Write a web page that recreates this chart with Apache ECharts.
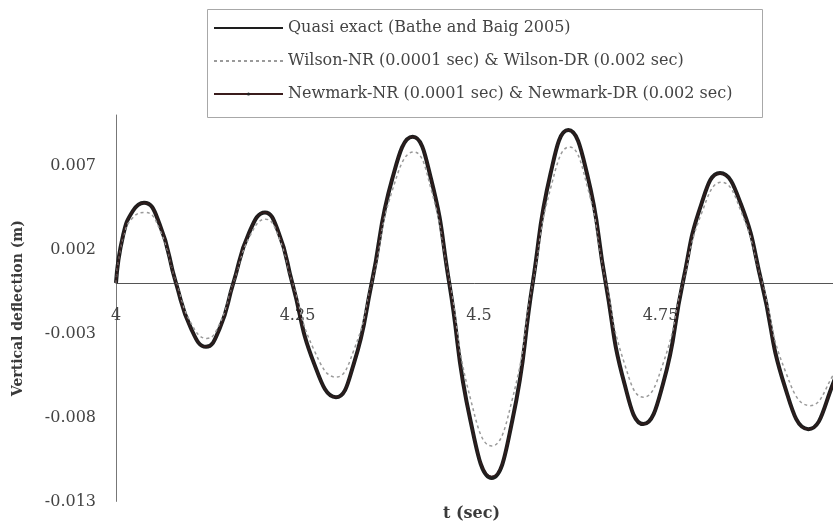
<!DOCTYPE html>
<html>
<head>
<meta charset="utf-8">
<script src="https://cdn.jsdelivr.net/npm/echarts@6/dist/echarts.min.js"></script>
<style>
html,body{margin:0;padding:0;background:#fff;}
#chart{width:833px;height:528px;}
</style>
</head>
<body>
<div id="chart"></div>
<script>
// ---- data ----
var seriesNames = [
  'Quasi exact (Bathe and Baig 2005)',
  'Wilson-NR (0.0001 sec) & Wilson-DR (0.002 sec)',
  'Newmark-NR (0.0001 sec) & Newmark-DR (0.002 sec)'
];
var xTicks = [4, 4.25, 4.5, 4.75, 5];
var yTicks = [-0.013, -0.008, -0.003, 0.002, 0.007];

var tQuasi = [4.000, 4.0096, 4.0234, 4.0386, 4.0601, 4.0826, 4.1033, 4.1240, 4.1428, 4.1616,
  4.1834, 4.2052, 4.2240, 4.2428, 4.2729, 4.3030, 4.3276, 4.3522, 4.3805, 4.4087,
  4.4339, 4.4590, 4.4883, 4.5175, 4.5458, 4.5740, 4.5985, 4.6230, 4.6488, 4.6745,
  4.7004, 4.7263, 4.7535, 4.7806, 4.8063, 4.8320, 4.8607, 4.8894, 4.9215, 4.9536,
  4.9876, 5.000];
var vQuasi = [0.0000, 0.0028, 0.0043, 0.00478, 0.0035, 0.0000, -0.0027, -0.0038, -0.0027, 0.0000,
  0.0030, 0.0042, 0.0030, 0.0000, -0.0048, -0.0068, -0.0048, 0.0000, 0.0062, 0.0087,
  0.0062, 0.0000, -0.0082, -0.0116, -0.0082, 0.0000, 0.0065, 0.0091, 0.0065, 0.0000,
  -0.0060, -0.0084, -0.0060, 0.0000, 0.0047, 0.00655, 0.0047, 0.0000, -0.0062, -0.0087,
  -0.0060, -0.0037];

var tWilson = [4.000, 4.0096, 4.0234, 4.0400, 4.0610, 4.0830, 4.1035, 4.1250, 4.1430, 4.1616,
  4.1834, 4.2060, 4.2245, 4.2430, 4.2729, 4.3030, 4.3276, 4.3522, 4.3805, 4.4100,
  4.4345, 4.4595, 4.4883, 4.5175, 4.5460, 4.5740, 4.5990, 4.6245, 4.6495, 4.6750,
  4.7004, 4.7263, 4.7535, 4.7806, 4.8070, 4.8340, 4.8615, 4.8900, 4.9215, 4.9560,
  4.9876, 5.000];
var vWilson = [0.0000, 0.0027, 0.0039, 0.0042, 0.0031, 0.0000, -0.0024, -0.0033, -0.0024, 0.0000,
  0.0027, 0.0038, 0.0027, 0.0000, -0.0040, -0.0056, -0.0040, 0.0000, 0.0055, 0.0078,
  0.0055, 0.0000, -0.0069, -0.0097, -0.0069, 0.0000, 0.0057, 0.0081, 0.0057, 0.0000,
  -0.0048, -0.0068, -0.0048, 0.0000, 0.0042, 0.0060, 0.0042, 0.0000, -0.0052, -0.0073,
  -0.0055, -0.0041];

var tNewmark = [4.000, 4.0096, 4.0234, 4.0390, 4.0601, 4.0826, 4.1033, 4.1240, 4.1428, 4.1616,
  4.1834, 4.2052, 4.2240, 4.2428, 4.2729, 4.3030, 4.3276, 4.3522, 4.3805, 4.4087,
  4.4339, 4.4590, 4.4883, 4.5175, 4.5458, 4.5740, 4.5985, 4.6230, 4.6488, 4.6745,
  4.7004, 4.7263, 4.7535, 4.7806, 4.8063, 4.8320, 4.8607, 4.8894, 4.9215, 4.9536,
  4.9876, 5.000];
var vNewmark = [0.0000, 0.0028, 0.0043, 0.00476, 0.0035, 0.0000, -0.0027, -0.0038, -0.0027, 0.0000,
  0.0030, 0.0042, 0.0030, 0.0000, -0.0048, -0.0068, -0.0048, 0.0000, 0.0062, 0.0087,
  0.0062, 0.0000, -0.0082, -0.0115, -0.0082, 0.0000, 0.0065, 0.0091, 0.0065, 0.0000,
  -0.0060, -0.0084, -0.0060, 0.0000, 0.0047, 0.0065, 0.0047, 0.0000, -0.0062, -0.0087,
  -0.0060, -0.0037];

function pairs(t, v) { return t.map(function (x, i) { return [x, v[i]]; }); }

var FONT = 'DejaVu Serif';
var GRID_TOP = 115, GRID_H = 386.4;
var yMax = 0.010;
var zeroOffset = -GRID_H * (0 - yTicks[0]) / (yMax - yTicks[0]);

var chart = echarts.init(document.getElementById('chart'), null, {renderer: 'canvas'});
chart.setOption({
  animation: false,
  backgroundColor: '#ffffff',
  grid: {left: 116, top: GRID_TOP, width: 726, height: GRID_H, containLabel: false, outerBoundsMode: 'none'},
  legend: {
    orient: 'vertical',
    left: 207, top: 9,
    padding: [11, 8, 10, 6],
    itemWidth: 69, itemHeight: 4, itemGap: 17,
    borderWidth: 0,
    textStyle: {fontFamily: FONT, fontSize: 16, lineHeight: 16, color: '#444'},
    data: [
      {name: seriesNames[0], itemStyle: {opacity: 0}},
      {name: seriesNames[1], itemStyle: {opacity: 0}},
      {name: seriesNames[2]}
    ]
  },
  xAxis: {
    type: 'value', min: xTicks[0], max: xTicks[xTicks.length - 1], interval: 0.25,
    offset: zeroOffset,
    axisLine: {show: true, onZero: false, lineStyle: {color: '#555', width: 1}},
    axisTick: {show: false},
    splitLine: {show: false},
    axisLabel: {
      margin: 25, fontFamily: FONT, fontSize: 16, color: '#444',
      formatter: function (v) { return String(+v.toFixed(2)); }
    }
  },
  yAxis: {
    type: 'value', min: yTicks[0], max: yMax, interval: 0.005,
    name: 'Vertical deflection (m)', nameLocation: 'middle', nameGap: 91,
    nameTextStyle: {fontFamily: FONT, fontSize: 14, fontWeight: 'bold', color: '#3a3a3a'},
    axisLine: {show: true, onZero: false, lineStyle: {color: '#777', width: 1}},
    axisTick: {show: false},
    splitLine: {show: false},
    axisLabel: {
      margin: 20, fontFamily: FONT, fontSize: 16, color: '#444', showMaxLabel: false,
      formatter: function (v) { return v.toFixed(3); }
    }
  },
  graphic: [
    {
      type: 'rect', z: 0, left: 207, top: 9,
      shape: {width: 555, height: 108},
      style: {fill: '#ffffff', stroke: '#a8a8a8', lineWidth: 1}
    },
    {
      type: 'text', left: 443, top: 506,
      style: {text: 't (sec)', font: 'bold 16px "DejaVu Serif"', fill: '#3a3a3a'}
    }
  ],
  series: [
    {
      name: seriesNames[0], type: 'line', data: pairs(tQuasi, vQuasi),
      smooth: 0.5, symbol: 'none', silent: true,
      lineStyle: {color: '#1e1e1e', width: 4},
      itemStyle: {color: '#1e1e1e'}
    },
    {
      name: seriesNames[1], type: 'line', data: pairs(tWilson, vWilson),
      smooth: 0.5, symbol: 'none', silent: true,
      lineStyle: {color: '#9a9a9a', width: 1.5, type: [3, 3]},
      itemStyle: {color: '#9a9a9a'}
    },
    {
      name: seriesNames[2], type: 'line', data: pairs(tNewmark, vNewmark),
      smooth: 0.5, symbol: 'circle', symbolSize: 4, showSymbol: false, silent: true,
      lineStyle: {color: '#3a1c1c', width: 1},
      itemStyle: {color: '#222'}
    }
  ]
});
</script>
</body>
</html>
